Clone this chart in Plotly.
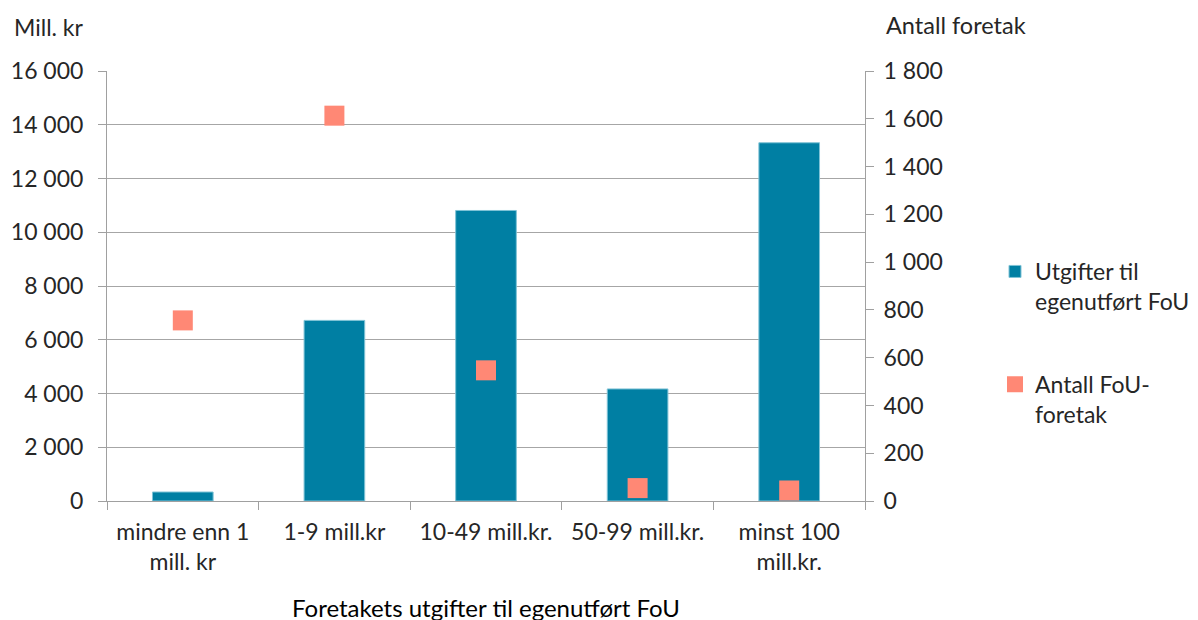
import plotly.graph_objects as go

categories = ["mindre enn 1<br>mill. kr", "1-9 mill.kr", "10-49 mill.kr.", "50-99 mill.kr.", "minst 100<br>mill.kr."]
utgifter = [335, 6720, 10810, 4170, 13330]
antall = [756, 1613, 547, 54, 44]

font_family = "Lato, 'Open Sans', sans-serif"
text_color = "#262626"
FS = 23

# page is rendered with an 8px body margin; compensate in margins
L, R, T, B = 99, 341, 63, 127
W, H = 1198, 620
pw = W - L - R
ph = H - T - B

def px_x(px):
    return (px - 8 - L) / pw

def px_y(py):
    return (H - B - (py - 8)) / ph

fig = go.Figure()
fig.add_trace(go.Bar(
    x=categories, y=utgifter, name="Utgifter til<br>egenutført FoU",
    marker=dict(color="#007FA3", line=dict(color="#7FC3D6", width=1)),
    yaxis="y", legendgroup="a",
))
fig.add_trace(go.Scatter(
    x=categories, y=antall, name="Antall FoU-<br>foretak", mode="markers",
    marker=dict(symbol="square", size=20, color="#FF8875"),
    yaxis="y2", legendgroup="b",
))

fig.update_layout(
    width=W, height=H,
    margin=dict(l=L, r=R, t=T, b=B, autoexpand=False),
    plot_bgcolor="white", paper_bgcolor="white",
    separators=", ",
    font=dict(family=font_family, size=FS, color=text_color),
    bargap=0.6,
    showlegend=True,
    legend=dict(x=px_x(995), y=px_y(250), xanchor="left", yanchor="top",
                font=dict(size=FS), tracegroupgap=50, valign="top",
                bgcolor="rgba(0,0,0,0)"),
    xaxis=dict(
        type="category", showline=True, linecolor="#A0A0A0", linewidth=1,
        ticks="outside", ticklen=8, tickcolor="#A0A0A0", tickson="boundaries",
        showgrid=False, tickfont=dict(size=FS), automargin=False,
        ticklabelstandoff=10,
    ),
    yaxis=dict(
        range=[0, 16000], dtick=2000, tickformat=",d",
        showline=True, linecolor="#A0A0A0", linewidth=1,
        ticks="outside", ticklen=8, tickcolor="#A0A0A0",
        showgrid=True, gridcolor="#A6A6A6", gridwidth=1,
        zeroline=False, tickfont=dict(size=FS), automargin=False,
        ticklabelstandoff=10,
    ),
    yaxis2=dict(
        range=[0, 1800], dtick=200, tickformat=",d",
        overlaying="y", side="right",
        showline=True, linecolor="#A0A0A0", linewidth=1,
        ticks="outside", ticklen=8, tickcolor="#A0A0A0",
        showgrid=False, zeroline=False, tickfont=dict(size=FS),
        automargin=False, ticklabelstandoff=5,
    ),
)

fig.add_annotation(text="Mill. kr", x=px_x(12), y=px_y(27),
                   xref="paper", yref="paper", xanchor="left", yanchor="middle",
                   showarrow=False, font=dict(size=FS, color=text_color))
fig.add_annotation(text="Antall foretak", x=px_x(884), y=px_y(25),
                   xref="paper", yref="paper", xanchor="left", yanchor="middle",
                   showarrow=False, font=dict(size=FS + 0.5, color=text_color))
fig.add_annotation(text="Foretakets utgifter til egenutført FoU", x=px_x(486), y=px_y(607),
                   xref="paper", yref="paper", xanchor="center", yanchor="middle",
                   showarrow=False, font=dict(size=24, color="black"))

fig.write_html("out.html")
